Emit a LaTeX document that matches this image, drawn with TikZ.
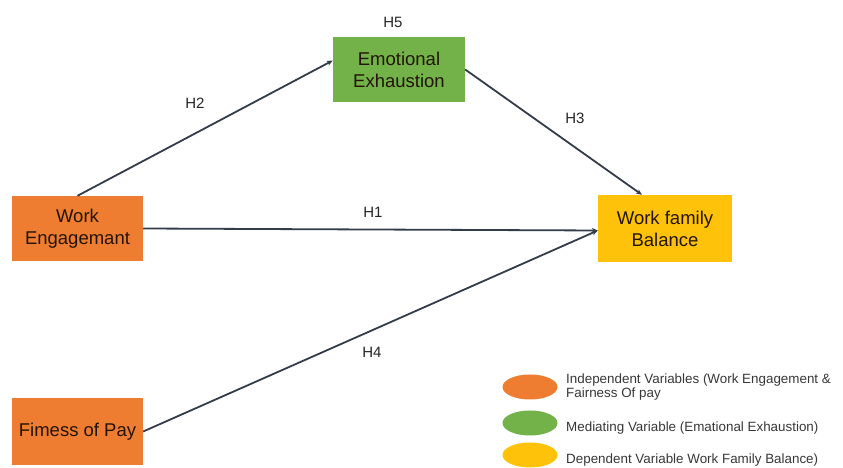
\documentclass[tikz,border=0pt]{standalone}
\usepackage{fontspec}
\setmainfont{Liberation Sans}
\usetikzlibrary{arrows.meta,calc,shapes.geometric}
\definecolor{orangebox}{RGB}{238,125,49}
\definecolor{greenbox}{RGB}{114,178,72}
\definecolor{yellowbox}{RGB}{255,194,10}
\definecolor{boxtext}{RGB}{35,20,5}
\definecolor{linecol}{RGB}{52,60,74}
\tikzset{
  varbox/.style={draw=none, minimum width=#1, inner sep=0pt, align=center, text=boxtext,
    font=\fontsize{18.5}{22}\selectfont},
  conn/.style={draw=linecol, line width=1.8pt, -{Stealth[length=6pt,width=5pt]}},
  hlabel/.style={font=\fontsize{15}{17}\selectfont, text=black!85},
  legdot/.style={ellipse, draw=none, minimum width=55pt, minimum height=25pt, inner sep=0pt},
  legtext/.style={anchor=west, align=left, text=black!78, inner sep=0pt,
    font=\fontsize{13.4}{14.5}\selectfont}
}
\begin{document}
\begin{tikzpicture}[x=1pt,y=1pt]
\useasboundingbox (0,0) rectangle (843,468);
\fill[white] (0,0) rectangle (843,468);
% boxes
\node[varbox=131pt, minimum height=65pt, fill=orangebox] (we) at (77.5,239.5) {Work\\Engagemant};
\node[varbox=132pt, minimum height=65pt, fill=greenbox] (ee) at (399,398.5) {Emotional\\Exhaustion};
\node[varbox=134pt, minimum height=67pt, fill=yellowbox] (wfb) at (665,239.5) {Work family\\Balance};
\node[varbox=131pt, minimum height=67pt, fill=orangebox] (fp) at (77.5,36.5) {Fimess of Pay};
% connectors
\draw[conn] (we.north) -- ([yshift=9pt]ee.west);
\draw[conn] (ee.east) -- ([xshift=-23pt]wfb.north);
\draw[conn] (we.east) -- ([yshift=-2pt]wfb.west);
\draw[conn] (fp.east) -- ([yshift=-2pt]wfb.west);
% labels
\node[hlabel] (h5) at (393,446) {H5};
\node[hlabel] (h2) at (195,365) {H2};
\node[hlabel] (h3) at (575,350) {H3};
\node[hlabel] (h1) at (373,256) {H1};
\node[hlabel] (h4) at (372,116) {H4};
% legend
\node[legdot, fill=orangebox] (l1) at (530,81) {};
\node[legdot, fill=greenbox] (l2) at (530,45) {};
\node[legdot, fill=yellowbox] (l3) at (530,13) {};
\node[legtext] (t1) at (566,81) {Independent Variables (Work Engagement \&\\Fairness Of pay};
\node[legtext] (t2) at (566,40) {Mediating Variable (Emational Exhaustion)};
\node[legtext] (t3) at (566,8) {Dependent Variable Work Family Balance)};
\end{tikzpicture}
\end{document}
